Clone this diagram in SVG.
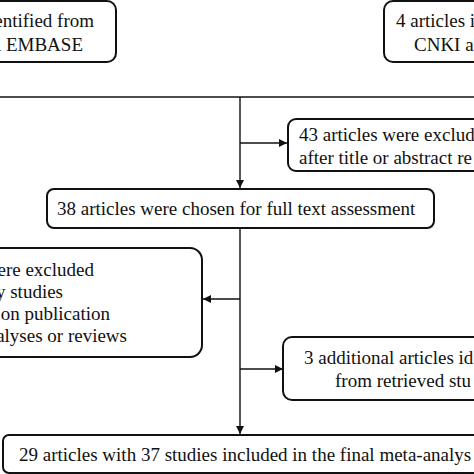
<svg xmlns="http://www.w3.org/2000/svg" width="474" height="474" viewBox="0 0 474 474">
<style>
.box{fill:#fff;stroke:#111;stroke-width:2}
.ln{fill:none;stroke:#111;stroke-width:1.4}
</style>
<defs>
<marker id="ah" viewBox="0 0 10 10" refX="10" refY="5" markerWidth="8" markerHeight="8" markerUnits="userSpaceOnUse" orient="auto"><path d="M0,0 L10,5 L0,10 z" fill="#111"/></marker>
</defs>
<rect width="474" height="474" fill="#fff"/>
<g id="connectors">
<line class="ln" x1="0" y1="97" x2="474" y2="97"/>
<line class="ln" x1="240" y1="97" x2="240" y2="188" marker-end="url(#ah)"/>
<line class="ln" x1="240" y1="143" x2="287" y2="143" marker-end="url(#ah)"/>
<line class="ln" x1="240" y1="228" x2="240" y2="434" marker-end="url(#ah)"/>
<line class="ln" x1="240" y1="299" x2="203" y2="299" marker-end="url(#ah)"/>
<line class="ln" x1="240" y1="369" x2="283" y2="369" marker-end="url(#ah)"/>
</g>
<g font-family="Liberation Serif, DejaVu Serif, Times New Roman, serif" font-size="19" fill="#111">
<g id="node-pubmed">
<rect class="box" x="-20" y="1" width="136" height="61" rx="9"/>
<text x="94" y="27" text-anchor="end">entified from</text>
<text x="83" y="51" text-anchor="end">l EMBASE</text>
</g>
<g id="node-cnki">
<rect class="box" x="384" y="1" width="110" height="61" rx="9"/>
<text x="396" y="27">4 articles i</text>
<text x="414" y="51">CNKI a</text>
</g>
<g id="node-excluded43">
<rect class="box" x="288" y="119" width="206" height="52" rx="8"/>
<text x="299" y="141">43 articles were exclud</text>
<text x="299" y="164">after title or abstract re</text>
</g>
<g id="node-chosen38">
<rect class="box" x="47" y="189" width="387" height="39" rx="7"/>
<text x="57" y="215">38 articles were chosen for full text assessment</text>
</g>
<g id="node-excluded">
<rect class="box" x="-20" y="248" width="222" height="109" rx="12"/>
<text x="94" y="276" text-anchor="end">ere excluded</text>
<text x="63" y="298" text-anchor="end">y studies</text>
<text x="110" y="320" text-anchor="end">on publication</text>
<text x="127" y="342" text-anchor="end">alyses or reviews</text>
</g>
<g id="node-additional3">
<rect class="box" x="283" y="337" width="211" height="63" rx="9"/>
<text x="304" y="364">3 additional articles id</text>
<text x="335" y="387">from retrieved stu</text>
</g>
<g id="node-final">
<rect class="box" x="3" y="435" width="491" height="38" rx="6"/>
<text x="19" y="461">29 articles with 37 studies included in the final meta-analys</text>
</g>
</g>
</svg>
